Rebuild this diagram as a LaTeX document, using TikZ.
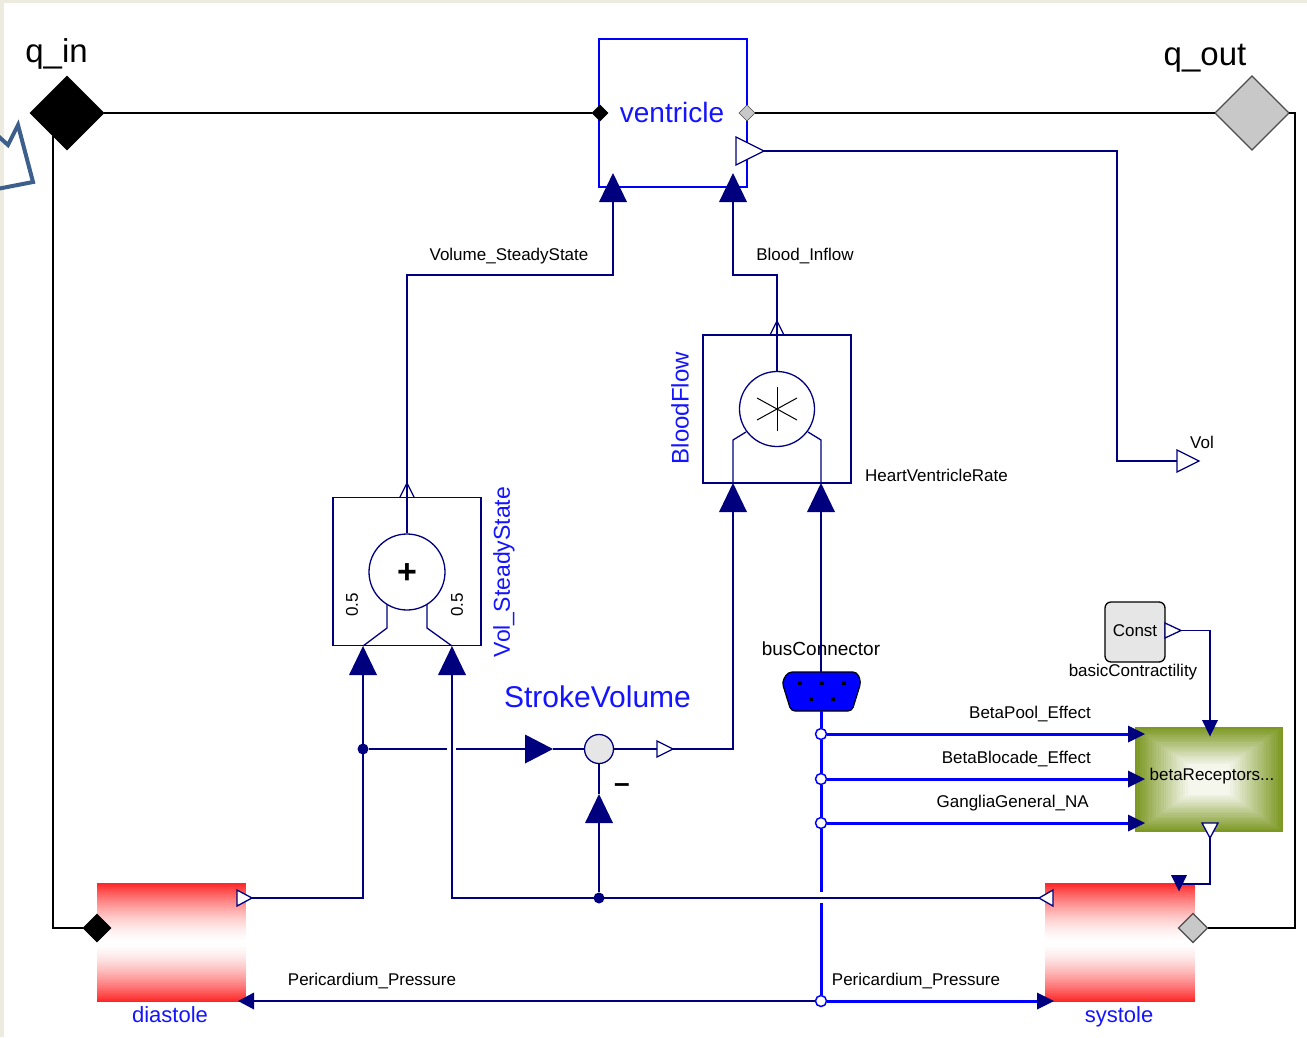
\documentclass[tikz,border=0pt]{standalone}
\usepackage{fontspec}
\setmainfont{Liberation Sans}
\usetikzlibrary{shapes.geometric,calc}
\definecolor{navy}{RGB}{0,0,127}
\definecolor{mblue}{RGB}{0,0,255}
\definecolor{tblue}{RGB}{20,20,255}
\definecolor{beige}{RGB}{237,235,224}
\definecolor{redg}{RGB}{255,35,35}
\definecolor{olive}{RGB}{125,152,35}
\definecolor{lgray}{RGB}{230,230,230}
\definecolor{dgray}{RGB}{200,200,200}
\definecolor{cursorblue}{RGB}{60,95,140}
\begin{document}
\begin{tikzpicture}[x=1pt,y=-1pt,
  sig/.style={draw=navy,line width=1.5},
  phys/.style={draw=black,line width=1.4},
  bus/.style={draw=mblue,line width=3},
  fs/.style={font=\fontsize{#1}{#1}\selectfont},
  lbl/.style={fs=17,inner sep=0,text=black},
  blbl/.style={inner sep=0,text=tblue},
  port/.style={diamond,inner sep=0,outer sep=0,minimum width=#1,minimum height=#1,draw},
  blk/.style={draw=navy,line width=1.5,minimum width=148,minimum height=148,inner sep=0,outer sep=0},
  jdot/.style={circle,fill=navy,inner sep=0,minimum size=11},
  bdot/.style={circle,draw=mblue,fill=white,line width=1.5,inner sep=0,minimum size=11},
  pics/triU/.style={code={\fill[navy] (-14,0) -- (14,0) -- (0,-29) -- cycle;}},
  pics/triR/.style={code={\fill[navy] (0,-14.5) -- (0,14.5) -- (28,0) -- cycle;}},
  pics/triRs/.style={code={\fill[navy] (0,-8.5) -- (0,8.5) -- (17,0) -- cycle;}},
  pics/triLs/.style={code={\fill[navy] (0,0) -- (16,-8.5) -- (16,8.5) -- cycle;}},
  pics/triDs/.style={code={\fill[navy] (-8,0) -- (8,0) -- (0,16.5) -- cycle;}},
  pics/openR/.style 2 args={code={\filldraw[draw=navy,fill=white,line width=1.3] (0,-#2) -- (#1,0) -- (0,#2) -- cycle;}},
  pics/openL/.style={code={\filldraw[draw=navy,fill=white,line width=1.3] (0,0) -- (14,-8) -- (14,8) -- cycle;}},
  pics/openD/.style={code={\filldraw[draw=navy,fill=white,line width=1.3] (-8,0) -- (8,0) -- (0,15) -- cycle;}},
  pics/openU/.style={code={\draw[draw=navy,line width=1.3] (-7,0) -- (0,-14) -- (7,0);}},
  pics/redblock/.style 2 args={code={
    \foreach \k in {0,...,59}{
      \pgfmathsetmacro{\tt}{abs((\k*2+1)-59.5)/59.5}
      \pgfmathsetmacro{\rp}{100*(\tt^1.6)}
      \fill[redg!\rp!white] (0,\k*2) rectangle (#1,{min(\k*2+2.4,#2)});
    }
  }},
]
\useasboundingbox (0,0) rectangle (1307,1037);
\fill[beige] (0,0) rectangle (1307,1037);
\fill[white] (4,3) rectangle (1307,1037);

% cursor arrow at the left edge
\draw[cursorblue,line width=4,line join=miter] (-3,135) -- (8,145) -- (18,125) -- (33,182) -- (-3,189);

% ---------- blocks ----------
\node[draw=mblue,line width=1.5,minimum width=148,minimum height=148,inner sep=0] (ventricle) at (673,113) {};
\node[blbl,fs=28,anchor=base] (ventricleL) at (672,122) {ventricle};

\node[blk] (bf) at (777,409) {};
\node[circle,draw=navy,line width=1.3,minimum size=75,inner sep=0] (bfC) at (777,409) {};
\draw[black,line width=1] (777,387) -- (777,431);
\draw[black,line width=1] (757,398) -- (797,420);
\draw[black,line width=1] (757,420) -- (797,398);

\node[blk] (vss) at (407,571.5) {};
\node[circle,draw=navy,line width=1.3,minimum size=76,inner sep=0] (vssC) at (407,572) {};
\node[inner sep=0,font=\fontsize{34}{34}\selectfont\bfseries] (plus) at (407,574) {+};

% diastole / systole
\pic at (97,883) {redblock={149}{119}};
\pic at (1045,883) {redblock={150}{119}};
\node[minimum width=149,minimum height=119,inner sep=0] (diastole) at (171.5,942.5) {};
\node[minimum width=150,minimum height=119,inner sep=0] (systole) at (1120,942.5) {};

% betaReceptors green block
\node[minimum width=148,minimum height=105,inner sep=0] (betaR) at (1209,779.5) {};
\foreach \i in {0,...,30}{
  \pgfmathsetmacro{\fx}{74*(1-\i/31)}
  \pgfmathsetmacro{\fy}{52.5*(1-\i/31)}
  \pgfmathsetmacro{\pc}{min(92,100*(\i/24))}
  \fill[white!\pc!olive] (1209-\fx,779.5-\fy) rectangle (1209+\fx,779.5+\fy);
}
\node[lbl,anchor=base] (betaRL) at (1212,780) {betaReceptors...};

% Const block
\node[draw=black,line width=1.3,fill=lgray,rounded corners=6,minimum width=60,minimum height=60,inner sep=0] (const) at (1135,632) {};
\node[lbl,anchor=base] (constL) at (1135,636) {Const};
\node[lbl,anchor=base] (basicL) at (1133,676) {basicContractility};

% bus connector
\filldraw[fill=mblue,draw=black,line width=1.2,rounded corners=4] (788,672) -- (857,672) -- (861,682) -- (852,711) -- (791,711) -- (782,682) -- cycle;
\coordinate (busC) at (821,691);
\foreach \px/\py in {800/683,822/683,844/683,811/699,833/699}{
  \fill[black] (\px-2,\py-2) rectangle (\px+2,\py+2);
}
\node[fs=19,anchor=base,inner sep=0] (busL) at (821,655) {busConnector};

% ---------- physical connectors ----------
\node[port=74,fill=black] (qin) at (67,113) {};
\node[port=74,fill=dgray,draw=gray!60!black,line width=1.2] (qout) at (1252,113) {};
\node[port=16,fill=black] (vinL) at (600,113) {};
\node[port=16,fill=dgray,draw=gray!60!black] (vinR) at (747,113) {};
\node[port=28,fill=black] (dport) at (97,928) {};
\node[port=29,fill=dgray,draw=gray!60!black,line width=1.2] (sport) at (1193,928) {};
\node[fs=33,anchor=base,inner sep=0] (qinL) at (56.5,62) {q\_in};
\node[fs=33,anchor=base,inner sep=0] (qoutL) at (1205,65) {q\_out};

\draw[phys] (qin) -- (vinL);
\draw[phys] (vinR) -- (qout);
\coordinate (qinT) at (53,136);
\draw[phys] (qinT) |- (dport);
\coordinate (qoutT) at (1295,113);
\draw[phys] (qout.east) -- (qoutT) |- (sport);

% ---------- signal connectors ----------
% ventricle inputs
\coordinate (vIn1) at (613,202);
\coordinate (vIn2) at (733,202);
\coordinate (vsBend) at (613,275);
\coordinate (biBend) at (733,275);
\coordinate (vssTop) at (407,497);
\coordinate (bfTop) at (777,335);
\draw[sig] (vIn1) -- (vsBend) -| (vssTop);
\draw[sig] (vIn2) -- (biBend) -| (bfTop);
\pic at (vIn1) {triU};
\pic at (vIn2) {triU};
\node[lbl,anchor=base] (vssLbl) at (509,260) {Volume\_SteadyState};
\node[lbl,anchor=base] (biLbl) at (805,260) {Blood\_Inflow};

% ventricle output -> Vol
\coordinate (vOut) at (736,151);
\coordinate (vOutT) at (764,151);
\coordinate (volCorner) at (1117,461);
\coordinate (volIn) at (1177,461);
\draw[sig] (vOutT) -| (volCorner) -- (volIn);
\pic at (vOut) {openR={28}{14}};
\pic at (volIn) {openR={22}{11}};
\node[lbl,anchor=base west] (volL) at (1190,448) {Vol};

% BloodFlow internals
\draw[sig,line width=1.3] (bfC.north) -- (bfTop);
\pic at (bfTop) {openU};
\coordinate (bfA1) at (733,483); \coordinate (bfA2) at (733,440); \coordinate (bfA3) at (746,432);
\coordinate (bfB1) at (821,483); \coordinate (bfB2) at (821,440); \coordinate (bfB3) at (808,432);
\draw[sig,line width=1.3] (bfA1) -- (bfA2) -- (bfA3);
\draw[sig,line width=1.3] (bfB1) -- (bfB2) -- (bfB3);
\node[blbl,fs=24,rotate=90] (bfL) at (680,408) {BloodFlow};
\node[lbl,anchor=base west] (hvrL) at (865,481) {HeartVentricleRate};
\coordinate (bfIn1) at (733,512);
\coordinate (bfIn2) at (821,512);
\coordinate (busIn) at (821,672);
\draw[sig] (bfIn2) -- (busIn);
\pic at (bfIn1) {triU};
\pic at (bfIn2) {triU};

% Vol_SteadyState internals
\draw[sig,line width=1.3] (vssC.north) -- (vssTop);
\pic at (vssTop) {openU};
\coordinate (vsA1) at (363,646); \coordinate (vsA2) at (387,628); \coordinate (vsA3) at (387,604);
\coordinate (vsB1) at (452,646); \coordinate (vsB2) at (427,628); \coordinate (vsB3) at (427,604);
\draw[sig,line width=1.3] (vsA1) -- (vsA2) -- (vsA3);
\draw[sig,line width=1.3] (vsB1) -- (vsB2) -- (vsB3);
\node[lbl,rotate=90] (half1) at (352,605) {0.5};
\node[lbl,rotate=90] (half2) at (457,605) {0.5};
\node[blbl,fs=23,rotate=90] (vssL) at (504,572) {Vol\_SteadyState};
\coordinate (vssIn1) at (363,675);
\coordinate (vssIn2) at (452,675);

% diastole / systole outputs
\coordinate (dOut) at (237,898);
\coordinate (dOutT) at (252,898);
\coordinate (sOut) at (1039,898);
\draw[sig] (dOutT) -| (vssIn1);
\draw[sig] (sOut) -| (vssIn2);
\pic at (dOut) {openR={15}{8}};
\pic at (sOut) {openL};
\pic at (vssIn1) {triU};
\pic at (vssIn2) {triU};

% StrokeVolume
\node[jdot] (j1) at (363,749) {};
\node[jdot] (j2) at (599,898) {};
\node[circle,draw=navy,fill=lgray,line width=1.3,minimum size=29,inner sep=0] (sv) at (599,749) {};
\coordinate (gapA) at (447,749);
\coordinate (gapB) at (456,749);
\coordinate (svIn1) at (525,749);
\coordinate (svTip1) at (553,749);
\coordinate (svIn2) at (599,823);
\coordinate (svTip2) at (599,794);
\coordinate (svOut) at (657,749);
\coordinate (svOutT) at (673,749);
\draw[sig] (j1) -- (gapA);
\draw[sig] (gapB) -- (svIn1);
\draw[sig] (svTip1) -- (sv);
\draw[sig] (j2) -- (svIn2);
\draw[sig] (svTip2) -- (sv);
\draw[sig] (sv) -- (svOut);
\draw[sig] (svOutT) -| (bfIn1);
\pic at (svIn1) {triR};
\pic at (svIn2) {triU};
\pic at (svOut) {openR={16}{8}};
\node[blbl,fs=30,anchor=base] (svL) at (597.5,707) {StrokeVolume};
\node[inner sep=0,font=\fontsize{28}{28}\selectfont\bfseries] (minus) at (622,788) {–};

% Const -> betaReceptors
\coordinate (cOut) at (1165,630.5);
\coordinate (cOutT) at (1181,630.5);
\coordinate (bTopIn) at (1210,720);
\draw[sig] (cOutT) -| (bTopIn);
\pic at (cOut) {openR={16}{7.5}};
\pic at (bTopIn) {triDs};

% betaReceptors -> systole
\coordinate (bOut) at (1210,823);
\coordinate (bOutT) at (1210,838);
\coordinate (sTopC) at (1179,884);
\coordinate (sTopIn) at (1179,875);
\draw[sig] (bOutT) |- (sTopC);
\pic at (bOut) {openD};
\pic at (sTopIn) {triDs};

% bus
\coordinate (busTop) at (821,711);
\coordinate (bgapA) at (821,892);
\coordinate (bgapB) at (821,903);
\node[bdot] (b1) at (821,734) {};
\node[bdot] (b2) at (821,779) {};
\node[bdot] (b3) at (821,823) {};
\node[bdot] (b4) at (821,1001) {};
\draw[bus] (busTop) -- (b1) -- (b2) -- (b3) -- (bgapA);
\draw[bus] (bgapB) -- (b4);
\coordinate (bi1) at (1128,734);
\coordinate (bi2) at (1128,779);
\coordinate (bi3) at (1128,823);
\draw[bus] (b1) -- (bi1);
\draw[bus] (b2) -- (bi2);
\draw[bus] (b3) -- (bi3);
\pic at (bi1) {triRs};
\pic at (bi2) {triRs};
\pic at (bi3) {triRs};
\node[lbl,anchor=base east] (bpL) at (1091,718) {BetaPool\_Effect};
\node[lbl,anchor=base east] (bbL) at (1091,763) {BetaBlocade\_Effect};
\node[lbl,anchor=base east] (ggL) at (1089,807) {GangliaGeneral\_NA};

% Pericardium pressure
\coordinate (dPin) at (254,1001);
\coordinate (dPtip) at (238,1001);
\coordinate (sPin) at (1037,1001);
\draw[sig] (b4) -- (dPin);
\draw[bus] (b4) -- (sPin);
\pic at (dPtip) {triLs};
\pic at (sPin) {triRs};
\node[lbl,anchor=base] (ppL1) at (372,985) {Pericardium\_Pressure};
\node[lbl,anchor=base] (ppL2) at (916,985) {Pericardium\_Pressure};

\node[blbl,fs=22,anchor=base] (diaL) at (170,1022) {diastole};
\node[blbl,fs=22,anchor=base] (sysL) at (1119,1022) {systole};
\end{tikzpicture}
\end{document}
